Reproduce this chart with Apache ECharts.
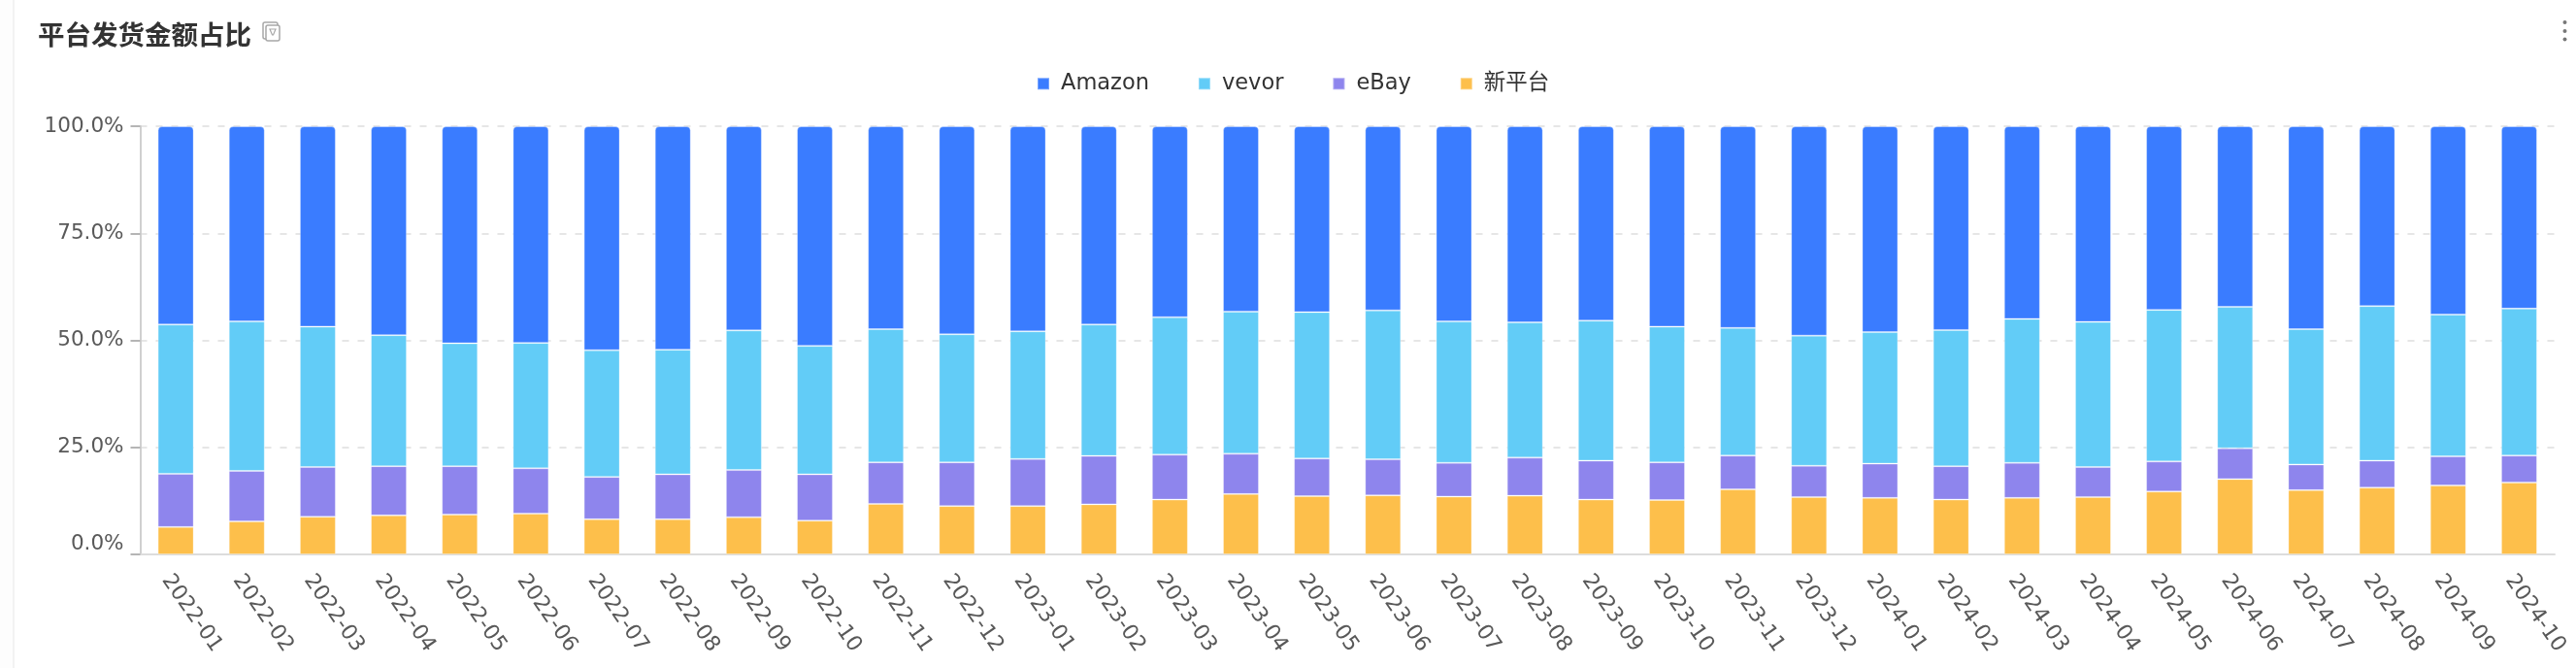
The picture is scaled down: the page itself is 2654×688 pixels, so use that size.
<!DOCTYPE html>
<html><head><meta charset="utf-8">
<style>html,body{margin:0;padding:0;background:#fff}#c{width:2654px;height:688px}</style>
<script src="https://cdn.jsdelivr.net/npm/echarts@6/dist/echarts.min.js"></script>
</head><body><div id="c"></div>
<script>
const categories = ['2022-01','2022-02','2022-03','2022-04','2022-05','2022-06','2022-07','2022-08','2022-09','2022-10','2022-11','2022-12','2023-01','2023-02','2023-03','2023-04','2023-05','2023-06','2023-07','2023-08','2023-09','2023-10','2023-11','2023-12','2024-01','2024-02','2024-03','2024-04','2024-05','2024-06','2024-07','2024-08','2024-09','2024-10'];
const amazon = [46.3,45.6,46.8,48.8,50.7,50.6,52.3,52.2,47.7,51.3,47.4,48.6,47.9,46.3,44.6,43.3,43.4,43,45.6,45.8,45.4,46.8,47.1,48.9,48.1,47.6,45,45.7,42.9,42.2,47.4,42,44,42.6];
const vevor = [34.9,34.9,32.8,30.6,28.7,29.3,29.6,29.1,32.6,30.0,31.1,29.9,29.8,30.7,32.1,33.2,34.2,34.8,33.0,31.6,32.7,31.7,29.8,30.4,30.7,31.8,33.6,33.9,35.4,33.0,31.6,36.1,33.1,34.3];
const ebay = [12.4,11.8,11.6,11.5,11.3,10.6,9.9,10.5,11.0,10.8,9.7,10.2,11.0,11.3,10.5,9.4,8.8,8.4,7.9,8.9,9.1,8.8,7.9,7.3,8.0,7.8,8.2,7.0,7.0,7.2,6.0,6.3,6.8,6.3];
const newPlatform = [6.4,7.7,8.8,9.1,9.3,9.5,8.2,8.2,8.7,7.9,11.8,11.3,11.3,11.7,12.8,14.1,13.6,13.8,13.5,13.7,12.8,12.7,15.2,13.4,13.2,12.8,13.2,13.4,14.7,17.6,15.0,15.6,16.1,16.8];
const legendNames = ['Amazon','vevor','eBay','新平台'];
const yTicks = [0,25,50,75,100];
const titleText = '平台发货金额占比';

const FONT = '"DejaVu Sans","Noto Sans CJK SC",sans-serif';
const edge = 'rgba(255,255,255,0.3)';
const mkBar = (name, data, color, radius) => ({
  name, type:'bar', stack:'share', data, barWidth:37,
  itemStyle:{color, borderColor:edge, borderWidth:1, borderRadius:radius||0}
});
const chart = echarts.init(document.getElementById('c'), null, {renderer:'canvas'});
chart.setOption({
  animation:false,
  backgroundColor:'#fff',
  title:{text:titleText,left:34,top:17,textStyle:{fontFamily:'"Noto Sans CJK SC",sans-serif',fontSize:27.5,fontWeight:700,color:'#333'}},
  legend:{data:legendNames,top:70,left:1063,itemWidth:12,itemHeight:12,itemGap:50,icon:'rect',
    textStyle:{fontFamily:FONT,fontSize:22.5,color:'#333',padding:[2,0,0,7]}},
  grid:{left:144.5,right:22,top:130,height:441,containLabel:false,outerBoundsMode:'none'},
  xAxis:{type:'category',data:categories,
    axisLine:{lineStyle:{color:'#dcdcdc',width:2}},
    axisTick:{alignWithLabel:true,length:10,lineStyle:{color:'#b5b5b5',width:2}},
    axisLabel:{rotate:-55,interval:0,margin:16,verticalAlign:'top',lineHeight:24,fontFamily:FONT,fontSize:22,color:'#595959'},
    splitLine:{show:false}},
  yAxis:{type:'value',min:yTicks[0],max:yTicks[4],interval:yTicks[1],
    axisLine:{show:true,lineStyle:{color:'#d0d0d0',width:2}},
    axisTick:{show:true,length:10,lineStyle:{color:'#b5b5b5',width:2}},
    axisLabel:{margin:17,padding:[2,0,0,0],verticalAlignMinLabel:'bottom',fontFamily:FONT,fontSize:21.5,color:'#595959',formatter:v=>v.toFixed(1)+'%'},
    splitLine:{lineStyle:{color:'#e6e6e6',width:2,type:[7,9]}}},
  series:[
    mkBar(legendNames[3],newPlatform,'#fdbf4b'),
    mkBar(legendNames[2],ebay,'#8e85ed'),
    mkBar(legendNames[1],vevor,'#62ccf7'),
    mkBar(legendNames[0],amazon,'#3a7cff',[4,4,0,0])
  ],
  graphic:[
    {type:'rect',shape:{x:0,y:0,width:13,height:688},style:{fill:'#fdfdfd'},silent:true},
    {type:'rect',shape:{x:13,y:0,width:2,height:688},style:{fill:'#f2f2f2'},silent:true},
    {type:'rect',shape:{x:271,y:23,width:15,height:17,r:2},style:{fill:'#fff',stroke:'#a8a8a8',lineWidth:1.5},silent:true},
    {type:'rect',shape:{x:274,y:26,width:14,height:16,r:2},style:{fill:'#fff',stroke:'#a8a8a8',lineWidth:1.5},silent:true},
    {type:'polygon',shape:{points:[[278,30],[284,30],[281.5,36],[280.5,36]]},style:{fill:'#fff',stroke:'#a8a8a8',lineWidth:1.2},silent:true},
    {type:'circle',shape:{cx:2642.5,cy:23,r:2},style:{fill:'#777'},silent:true},
    {type:'circle',shape:{cx:2642.5,cy:32,r:2},style:{fill:'#777'},silent:true},
    {type:'circle',shape:{cx:2642.5,cy:40.5,r:2},style:{fill:'#777'},silent:true}
  ]
});
</script></body></html>
